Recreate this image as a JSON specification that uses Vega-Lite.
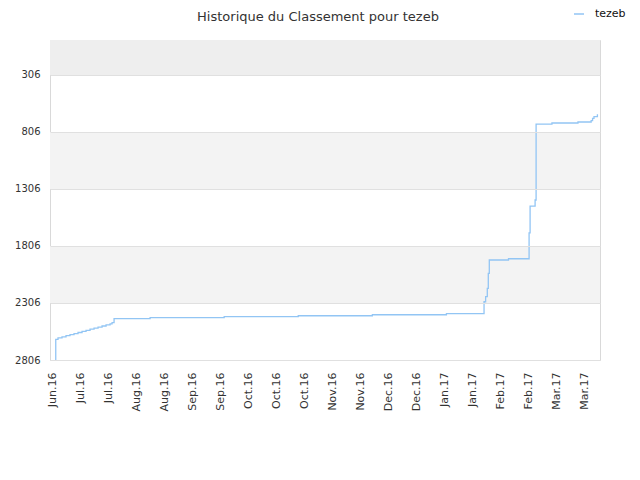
{
  "$schema": "https://vega.github.io/schema/vega-lite/v6.json",
  "autosize": {"type": "none"},
  "padding": {"left": 50, "top": 40, "right": 40, "bottom": 120},
  "width": 550,
  "height": 320,
  "title": {
    "text": "Historique du Classement pour tezeb",
    "fontSize": 13,
    "fontWeight": "normal",
    "color": "#333333",
    "offset": -16,
    "dx": -7
  },
  "config": {
    "font": "DejaVu Sans",
    "view": {"stroke": "#d9d9d9"}
  },
  "layer": [
    {
      "data": {"values": [{"y0": 0, "y1": 306}]},
      "mark": {"type": "rect", "color": "#eeeeee"},
      "encoding": {
        "y": {
          "field": "y0",
          "type": "quantitative",
          "title": null,
          "scale": {"domain": [0, 2806], "reverse": true, "nice": false, "zero": false},
          "axis": {
            "values": [306, 806, 1306, 1806, 2306, 2806],
            "format": "d",
            "labelFontSize": 10,
            "labelColor": "#333333",
            "labelPadding": 10,
            "ticks": false,
            "domain": false,
            "gridColor": "#e0e0e0",
            "zindex": 1
          }
        },
        "y2": {"field": "y1"}
      }
    },
    {
      "data": {"values": [{"y0": 806, "y1": 1306}, {"y0": 1806, "y1": 2306}]},
      "mark": {"type": "rect", "color": "#f3f3f3"},
      "encoding": {
        "y": {"field": "y0", "type": "quantitative"},
        "y2": {"field": "y1"}
      }
    },
    {
      "data": {
        "values": [
          {"date": "2016-06-26T20:00:00Z", "rank": 2806},
          {"date": "2016-06-26T21:00:00Z", "rank": 2625},
          {"date": "2016-06-28T00:00:00Z", "rank": 2612},
          {"date": "2016-06-30T00:00:00Z", "rank": 2603},
          {"date": "2016-07-02T00:00:00Z", "rank": 2593},
          {"date": "2016-07-04T00:00:00Z", "rank": 2584},
          {"date": "2016-07-06T00:00:00Z", "rank": 2574},
          {"date": "2016-07-08T00:00:00Z", "rank": 2565},
          {"date": "2016-07-10T00:00:00Z", "rank": 2555},
          {"date": "2016-07-12T00:00:00Z", "rank": 2546},
          {"date": "2016-07-14T00:00:00Z", "rank": 2536},
          {"date": "2016-07-16T00:00:00Z", "rank": 2527},
          {"date": "2016-07-18T00:00:00Z", "rank": 2517},
          {"date": "2016-07-20T00:00:00Z", "rank": 2508},
          {"date": "2016-07-22T00:00:00Z", "rank": 2498},
          {"date": "2016-07-24T00:00:00Z", "rank": 2489},
          {"date": "2016-07-25T00:00:00Z", "rank": 2479},
          {"date": "2016-07-26T00:00:00Z", "rank": 2444},
          {"date": "2016-08-13T00:00:00Z", "rank": 2435},
          {"date": "2016-09-19T00:00:00Z", "rank": 2426},
          {"date": "2016-10-26T00:00:00Z", "rank": 2418},
          {"date": "2016-12-02T00:00:00Z", "rank": 2409},
          {"date": "2017-01-08T00:00:00Z", "rank": 2400},
          {"date": "2017-01-26T19:00:00Z", "rank": 2295},
          {"date": "2017-01-27T14:00:00Z", "rank": 2251},
          {"date": "2017-01-28T10:00:00Z", "rank": 2178},
          {"date": "2017-01-28T22:00:00Z", "rank": 2046},
          {"date": "2017-01-29T10:00:00Z", "rank": 1929},
          {"date": "2017-02-08T00:00:00Z", "rank": 1918},
          {"date": "2017-02-18T07:00:00Z", "rank": 1692},
          {"date": "2017-02-18T19:00:00Z", "rank": 1456},
          {"date": "2017-02-21T07:00:00Z", "rank": 1403},
          {"date": "2017-02-21T19:00:00Z", "rank": 737},
          {"date": "2017-03-01T17:00:00Z", "rank": 728},
          {"date": "2017-03-14T17:00:00Z", "rank": 719},
          {"date": "2017-03-21T07:00:00Z", "rank": 707},
          {"date": "2017-03-22T00:00:00Z", "rank": 687},
          {"date": "2017-03-22T17:00:00Z", "rank": 672},
          {"date": "2017-03-24T10:00:00Z", "rank": 652}
        ]
      },
      "mark": {"type": "line", "interpolate": "step-after", "strokeWidth": 1.3},
      "encoding": {
        "x": {
          "field": "date",
          "type": "temporal",
          "title": null,
          "scale": {
            "type": "utc",
            "domain": [
              {"year": 2016, "month": 6, "date": 24, "utc": true},
              {"year": 2017, "month": 3, "date": 25, "hours": 17, "utc": true}
            ]
          },
          "axis": {
            "values": [
              {"year": 2016, "month": 6, "date": 25, "utc": true},
              {"year": 2016, "month": 7, "date": 9, "utc": true},
              {"year": 2016, "month": 7, "date": 23, "utc": true},
              {"year": 2016, "month": 8, "date": 6, "utc": true},
              {"year": 2016, "month": 8, "date": 20, "utc": true},
              {"year": 2016, "month": 9, "date": 3, "utc": true},
              {"year": 2016, "month": 9, "date": 17, "utc": true},
              {"year": 2016, "month": 10, "date": 1, "utc": true},
              {"year": 2016, "month": 10, "date": 15, "utc": true},
              {"year": 2016, "month": 10, "date": 29, "utc": true},
              {"year": 2016, "month": 11, "date": 12, "utc": true},
              {"year": 2016, "month": 11, "date": 26, "utc": true},
              {"year": 2016, "month": 12, "date": 10, "utc": true},
              {"year": 2016, "month": 12, "date": 24, "utc": true},
              {"year": 2017, "month": 1, "date": 7, "utc": true},
              {"year": 2017, "month": 1, "date": 21, "utc": true},
              {"year": 2017, "month": 2, "date": 4, "utc": true},
              {"year": 2017, "month": 2, "date": 18, "utc": true},
              {"year": 2017, "month": 3, "date": 4, "utc": true},
              {"year": 2017, "month": 3, "date": 18, "utc": true}
            ],
            "labelExpr": "utcFormat(datum.value, '%b.%y')",
            "labelAngle": -90,
            "labelFontSize": 11,
            "labelColor": "#333333",
            "labelPadding": 12,
            "ticks": false,
            "domain": false,
            "grid": false,
            "labelOverlap": false
          }
        },
        "y": {"field": "rank", "type": "quantitative"},
        "color": {
          "datum": "tezeb",
          "type": "nominal",
          "scale": {"range": ["#92c5f4"]},
          "legend": {
            "title": null,
            "orient": "none",
            "legendX": 523,
            "legendY": -32,
            "symbolType": "stroke",
            "symbolSize": 100,
            "symbolStrokeWidth": 1.5,
            "labelFontSize": 11,
            "labelColor": "#111111",
            "labelOffset": 10
          }
        }
      }
    }
  ]
}
